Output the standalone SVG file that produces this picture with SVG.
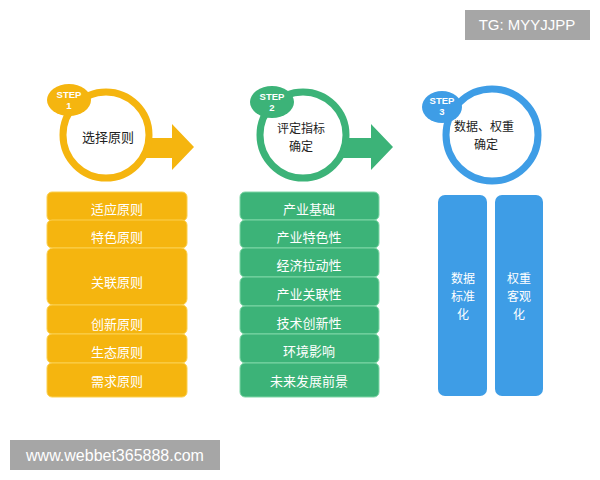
<svg xmlns="http://www.w3.org/2000/svg" width="600" height="480" viewBox="0 0 600 480">
<style>
.t{font-family:"Noto Sans CJK SC","Noto Sans",sans-serif;font-size:13px;text-anchor:middle}
.m{font-size:12px}
.w{fill:#ffffff}
.d{fill:#222222}
.st{font-family:"Liberation Sans","Noto Sans",sans-serif;font-size:9.5px;font-weight:bold;fill:#ffffff;text-anchor:middle}
.y{fill:#f5b50f}
.g{fill:#3cb378}
.b{fill:#3e9de6}
.ry{fill:#f5b50f;stroke:#fbd050;stroke-width:1}
.rg{fill:#3cb378;stroke:#7fd6a6;stroke-width:1}
.wm{font-family:"Liberation Sans","DejaVu Sans",sans-serif;fill:#ffffff}
</style>
<rect width="600" height="480" fill="#ffffff"/>
<g id="connectors">
<polygon class="y" points="140,138 172,138 172,124 194,147 172,170 172,158 140,158"/>
<polygon class="g" points="338,138 371,138 371,124 393,147 371,170 371,158 338,158"/>
</g>
<g id="step1">
<circle cx="106" cy="135" r="43" fill="#ffffff" stroke="#f5b50f" stroke-width="7"/>
<ellipse class="y" cx="69" cy="100" rx="22" ry="16"/>
<text class="st" x="69" y="98">STEP</text>
<text class="st" x="69" y="109">1</text>
<text class="t d" x="108" y="142">选择原则</text>
</g>
<g id="step2">
<circle cx="303" cy="135" r="43" fill="#ffffff" stroke="#3cb378" stroke-width="7"/>
<ellipse class="g" cx="272" cy="102" rx="22" ry="16"/>
<text class="st" x="272" y="100">STEP</text>
<text class="st" x="272" y="111">2</text>
<text class="t m d" x="301" y="133">评定指标</text>
<text class="t m d" x="301" y="151">确定</text>
</g>
<g id="step3">
<circle cx="492" cy="135" r="46" fill="#ffffff" stroke="#3e9de6" stroke-width="7"/>
<ellipse class="b" cx="442" cy="107" rx="20" ry="16"/>
<text class="st" x="442" y="104">STEP</text>
<text class="st" x="442" y="115">3</text>
<text class="t m d" x="484" y="131">数据、权重</text>
<text class="t m d" x="486" y="149">确定</text>
</g>
<g id="col1">
<rect class="ry" x="47" y="192" width="140" height="29" rx="5"/>
<text class="t w" x="117" y="214">适应原则</text>
<rect class="ry" x="47" y="220" width="140" height="28" rx="5"/>
<text class="t w" x="117" y="242">特色原则</text>
<rect class="ry" x="47" y="248" width="140" height="57" rx="6"/>
<text class="t w" x="117" y="287">关联原则</text>
<rect class="ry" x="47" y="305" width="140" height="29" rx="5"/>
<text class="t w" x="117" y="329">创新原则</text>
<rect class="ry" x="47" y="334" width="140" height="29" rx="5"/>
<text class="t w" x="117" y="357">生态原则</text>
<rect class="ry" x="47" y="363" width="140" height="34" rx="5"/>
<text class="t w" x="117" y="386">需求原则</text>
</g>
<g id="col2">
<rect class="rg" x="240" y="192" width="139" height="28" rx="5"/>
<text class="t w" x="309" y="214">产业基础</text>
<rect class="rg" x="240" y="220" width="139" height="28" rx="5"/>
<text class="t w" x="309" y="242">产业特色性</text>
<rect class="rg" x="240" y="248" width="139" height="29" rx="5"/>
<text class="t w" x="309" y="270">经济拉动性</text>
<rect class="rg" x="240" y="277" width="139" height="29" rx="5"/>
<text class="t w" x="309" y="299">产业关联性</text>
<rect class="rg" x="240" y="306" width="139" height="28" rx="5"/>
<text class="t w" x="309" y="328">技术创新性</text>
<rect class="rg" x="240" y="334" width="139" height="29" rx="5"/>
<text class="t w" x="309" y="356">环境影响</text>
<rect class="rg" x="240" y="363" width="139" height="34" rx="5"/>
<text class="t w" x="309" y="386">未来发展前景</text>
</g>
<g id="col3a">
<rect class="b" x="438" y="195" width="49" height="201" rx="7"/>
<text class="t m w" x="463" y="283">数据</text>
<text class="t m w" x="463" y="301">标准</text>
<text class="t m w" x="463" y="319">化</text>
</g>
<g id="col3b">
<rect class="b" x="495" y="195" width="48" height="201" rx="7"/>
<text class="t m w" x="519" y="283">权重</text>
<text class="t m w" x="519" y="301">客观</text>
<text class="t m w" x="519" y="319">化</text>
</g>
<g id="wm1">
<rect x="465" y="10" width="125" height="30" fill="#a6a6a6"/>
<text class="wm" x="527" y="30" font-size="15" text-anchor="middle">TG: MYYJJPP</text>
</g>
<g id="wm2">
<rect x="10" y="440" width="210" height="30" fill="#a6a6a6"/>
<text class="wm" x="115" y="461" font-size="16" text-anchor="middle">www.webbet365888.com</text>
</g>
</svg>
